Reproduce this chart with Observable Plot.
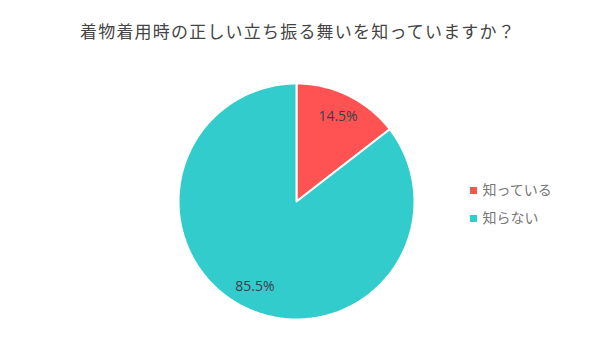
<!DOCTYPE html>
<html><head><meta charset="utf-8">
<script src="https://cdn.jsdelivr.net/npm/d3@7"></script>
<script src="https://cdn.jsdelivr.net/npm/@observablehq/plot@0.6"></script>
<style>
body{margin:0;background:#fff;font-family:"Noto Sans CJK JP","Noto Sans",sans-serif;}
#title{height:50px;line-height:62px;text-align:center;font-size:17px;letter-spacing:1.2px;color:#444;width:596px;}
</style></head>
<body>
<div id="title">着物着用時の正しい立ち振る舞いを知っていますか？</div>
<div id="chart"></div>
<script>
const categories = ["知っている", "知らない"];
const values = [14.5, 85.5];
const colors = ["#FF5252", "#33CCCC"];
const labels = ["14.5%", "85.5%"];

const cx = 296, cy = 151, r = 118;
const arcs = d3.pie().sort(null)(values);
const poly = [];
arcs.forEach((a, i) => {
  poly.push({cat: categories[i], x: cx, y: cy});
  const n = 120;
  for (let k = 0; k <= n; k++) {
    const t = a.startAngle + (a.endAngle - a.startAngle) * k / n;
    poly.push({cat: categories[i], x: cx + r * Math.sin(t), y: cy - r * Math.cos(t)});
  }
  poly.push({cat: categories[i], x: cx, y: cy});
});
const lab = arcs.map((a, i) => {
  const m = (a.startAngle + a.endAngle) / 2;
  return {text: labels[i], x: cx + 0.8 * r * Math.sin(m), y: cy - 0.8 * r * Math.cos(m)};
});
const legend = categories.map((c, i) => ({cat: c, x: 473, y: 140 + 28 * i}));

const chart = Plot.plot({
  width: 600, height: 310,
  margin: 0,
  x: {domain: [0, 600], range: [0, 600], axis: null},
  y: {domain: [0, 310], range: [0, 310], axis: null},
  color: {domain: categories, range: colors},
  marks: [
    Plot.line(poly, {x: "x", y: "y", z: "cat", fill: "cat", stroke: "white", strokeWidth: 2, curve: "linear"}),
    Plot.text(lab, {x: "x", y: "y", text: "text", fill: "#3a3f4a", fontSize: 14, fontFamily: "Open Sans, sans-serif"}),
    Plot.dot(legend, {x: "x", y: "y", symbol: "square", fill: "cat", r: 4}),
    Plot.text(legend, {x: "x", y: "y", text: "cat", dx: 9, textAnchor: "start", fill: "#777", fontSize: 14, fontFamily: "Noto Sans CJK JP, sans-serif", style: "letter-spacing:1px"})
  ]
});
document.getElementById("chart").appendChild(chart);
</script>
</body></html>
